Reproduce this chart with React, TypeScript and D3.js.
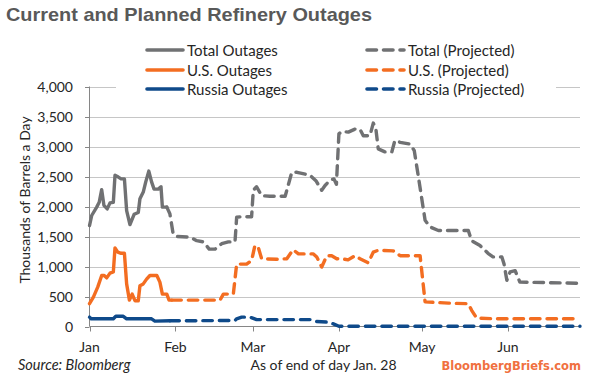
import React from 'react';
import * as d3 from 'd3';

// Day offsets from Jan 1 (2014) and values, thousands of barrels a day
const totalActualDays = [0, 0.8, 2.6, 3.5, 4.4, 5.2, 6.4, 7.4, 8.6, 9.2, 10.4, 11.4, 12.6, 13.4, 14.6, 16.1, 17.6, 18.2, 19.4, 20.3, 21.4, 22.4, 23.3, 24.8, 25.8, 26.3, 27.9];
const totalActualValues = [1680, 1850, 1990, 2070, 2280, 2020, 1960, 2060, 2070, 2520, 2490, 2460, 2460, 1930, 1700, 1870, 1900, 2130, 2240, 2410, 2590, 2410, 2290, 2290, 2330, 1990, 1990];

const totalProjDays = [27.9, 29.0, 30.2, 31.5, 36.3, 38.7, 41.1, 43.2, 45.3, 47.7, 50.1, 52.5, 53.1, 54.9, 58.5, 59.1, 60.3, 62.1, 65.1, 70.6, 73.0, 74.9, 79.6, 81.7, 83.8, 85.0, 86.8, 88.2, 89.1, 90.0, 91.0, 93.4, 95.8, 97.6, 98.8, 101.2, 102.4, 103.3, 104.2, 106.6, 109.1, 110.2, 112.1, 115.7, 117.2, 118.7, 121.1, 122.9, 125.9, 136.7, 137.9, 140.9, 143.8, 145.6, 148.8, 149.6, 150.6, 151.8, 153.6, 155.3, 177];
const totalProjValues = [1990, 1880, 1540, 1500, 1490, 1430, 1410, 1290, 1290, 1380, 1410, 1410, 1820, 1830, 1830, 2270, 2330, 2180, 2170, 2170, 2570, 2570, 2520, 2430, 2270, 2350, 2440, 2460, 2370, 3210, 3250, 3240, 3290, 3290, 3180, 3180, 3390, 3310, 2960, 2910, 2910, 3100, 3070, 3040, 2930, 2490, 1770, 1660, 1600, 1600, 1430, 1350, 1220, 1160, 1160, 1040, 770, 910, 930, 740, 720];

const usActualDays = [0, 1.4, 3.0, 4.4, 5.3, 6.2, 7.4, 8.6, 9.2, 10.2, 11.4, 12.6, 13.4, 14.4, 15.4, 16.4, 17.6, 18.2, 19.4, 20.6, 21.8, 24.3, 25.4, 26.3, 27.9, 28.7, 29.7];
const usActualValues = [380, 490, 660, 850, 850, 810, 890, 910, 1310, 1240, 1220, 1220, 710, 440, 540, 430, 430, 680, 710, 790, 850, 850, 740, 540, 540, 440, 440];

const usProjDays = [29.7, 47.1, 48.3, 51.9, 53.1, 56.7, 58.5, 59.7, 60.9, 62.1, 67.6, 71.2, 73.5, 75.4, 80.8, 82.0, 83.8, 85.6, 87.4, 89.2, 91.0, 93.3, 95.8, 97.6, 100.6, 102.4, 104.2, 109.6, 112.1, 119.3, 121.1, 129.5, 136.7, 137.9, 139.7, 145, 177];
const usProjValues = [440, 440, 540, 540, 1040, 1040, 1100, 1350, 1320, 1130, 1120, 1130, 1280, 1210, 1210, 1160, 990, 1180, 1180, 1130, 1130, 1110, 1180, 1130, 1060, 1240, 1270, 1260, 1180, 1180, 410, 390, 380, 270, 140, 130, 130];

const russiaActualDays = [0, 0.6, 8.6, 9.5, 12.2, 13.4, 22.4, 23.6, 29.0];
const russiaActualValues = [156, 128, 128, 170, 170, 128, 128, 90, 95];

const russiaProjDays = [29.0, 52.5, 53.1, 54.9, 57.9, 60.3, 79.6, 81.7, 86.0, 88.0, 90.0, 177];
const russiaProjValues = [95, 100, 128, 156, 156, 115, 115, 85, 72, 44, 3, 3];

const yTicks = [0, 500, 1000, 1500, 2000, 2500, 3000, 3500, 4000];

const seriesNames = ['Total Outages', 'U.S. Outages', 'Russia Outages'];
const projNames = ['Total (Projected)', 'U.S. (Projected)', 'Russia (Projected)'];
const colors = ['#707173', '#f36d21', '#0f4a8a'];

const X0 = 89.5, X1 = 580, YTOP = 86.5, YBOT = 326.5;
const FONT = 'Lato, "Open Sans", sans-serif';

export default function App() {
  const base = Date.UTC(2014, 0, 1);
  const toDate = (d: number) => new Date(base + d * 864e5);
  const x = d3.scaleUtc().domain([new Date(base), new Date(Date.UTC(2014, 5, 27))]).range([X0, X1]);
  const y = d3.scaleLinear().domain([0, 4000]).range([YBOT, YTOP]);
  const line = d3.line<[number, number]>().x(d => x(toDate(d[0]))).y(d => y(d[1]));
  const zip = (a: number[], b: number[]) => a.map((v, i) => [v, b[i]] as [number, number]);

  const actual = [
    zip(totalActualDays, totalActualValues),
    zip(usActualDays, usActualValues),
    zip(russiaActualDays, russiaActualValues),
  ];
  const proj = [
    zip(totalProjDays, totalProjValues),
    zip(usProjDays, usProjValues),
    zip(russiaProjDays, russiaProjValues),
  ];
  const months = d3.utcMonth.range(new Date(base), new Date(Date.UTC(2014, 5, 28)));
  const fmt = d3.format(',');
  const mfmt = d3.utcFormat('%b');
  const dash = '9.5,7';
  const sw = 3.4;

  return (
    <svg width={597} height={376} style={{ position: 'absolute', left: 0, top: 0, background: '#fff' }} fontFamily={FONT}>
      <rect width={597} height={376} fill="#fff" />
      <text x={6} y={21} fontFamily='"Liberation Sans", Arial, sans-serif' fontWeight="bold" fontSize={19} fill="#595959" textLength={366} lengthAdjust="spacingAndGlyphs">Current and Planned Refinery Outages</text>

      {yTicks.map(t => (
        <g key={t}>
          {t > 0 && <line x1={X0} x2={X1} y1={Math.round(y(t)) + 0.5} y2={Math.round(y(t)) + 0.5} stroke="#c6c6c6" strokeWidth={1} />}
          <line x1={85} x2={X0} y1={Math.round(y(t)) + 0.5} y2={Math.round(y(t)) + 0.5} stroke="#868686" />
          <text x={73} y={y(t) + 5} textAnchor="end" fontSize={14} fill="#262626">{fmt(t)}</text>
        </g>
      ))}
      <line x1={X0} x2={X0} y1={YTOP} y2={YBOT} stroke="#868686" />
      <line x1={X0} x2={X1} y1={YBOT} y2={YBOT} stroke="#868686" />
      {months.map(m => (
        <g key={m.getTime()}>
          <line x1={Math.round(x(m)) + 0.5} x2={Math.round(x(m)) + 0.5} y1={YBOT} y2={YBOT + 5} stroke="#868686" />
          <text x={x(m)} y={352} textAnchor="middle" fontSize={14} fill="#262626">{mfmt(m)}</text>
        </g>
      ))}
      <text transform="translate(30,200) rotate(-90)" textAnchor="middle" fontSize={14} fill="#262626">Thousands of Barrels a Day</text>

      {proj.map((p, i) => (
        <path key={'p' + i} d={line(p) || ''} fill="none" stroke={colors[i]} strokeWidth={sw} strokeDasharray={dash} strokeLinecap="round" strokeLinejoin="round" />
      ))}
      {actual.map((p, i) => (
        <path key={'a' + i} d={line(p) || ''} fill="none" stroke={colors[i]} strokeWidth={sw} strokeLinecap="round" strokeLinejoin="round" />
      ))}

      <rect x={116} y={38} width={440} height={60} fill="#fff" />
      {seriesNames.map((n, i) => {
        const ly = [50, 70, 89][i];
        return (
          <g key={n}>
            <line x1={147} x2={183} y1={ly} y2={ly} stroke={colors[i]} strokeWidth={3.6} strokeLinecap="round" />
            <text x={187} y={ly + 5.5} fontSize={15} fill="#262626">{n}</text>
          </g>
        );
      })}
      {projNames.map((n, i) => {
        const ly = [50, 70, 89][i];
        return (
          <g key={n}>
            <line x1={367} x2={404} y1={ly} y2={ly} stroke={colors[i]} strokeWidth={3.6} strokeDasharray={dash} strokeLinecap="round" />
            <text x={408} y={ly + 5.5} fontSize={15} fill="#262626">{n}</text>
          </g>
        );
      })}

      <text x={18} y={370} fontSize={14.5} fontStyle="italic" fill="#262626">Source: Bloomberg</text>
      <text x={323.5} y={370} textAnchor="middle" fontSize={14} fill="#262626">As of end of day Jan. 28</text>
      <text x={581} y={370} textAnchor="end" fontFamily='"DejaVu Sans", Verdana, sans-serif' fontWeight="bold" fontSize={11.5} fill="#f07040">BloombergBriefs.com</text>
    </svg>
  );
}
